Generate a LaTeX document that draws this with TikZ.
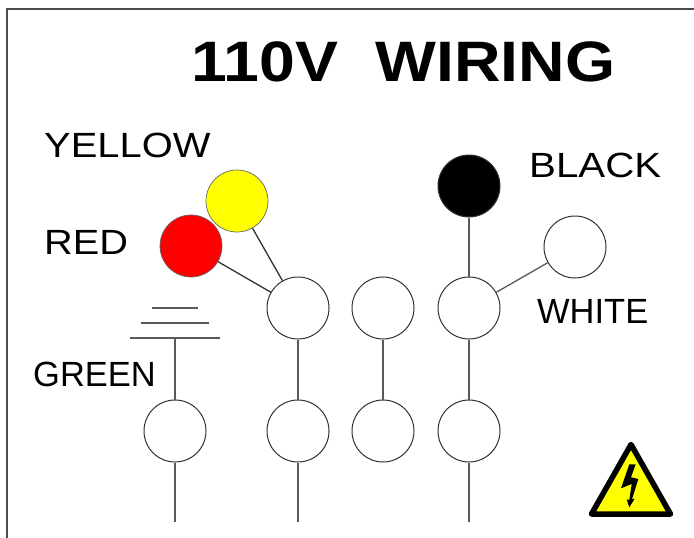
\documentclass[tikz,border=0pt]{standalone}
\usepackage{fontspec}
\usepackage{graphicx}
\setmainfont{Liberation Sans}
\definecolor{MyYellow}{RGB}{255,255,0}
\tikzset{
	MyWire/.style={draw=black!65,line width=1.3pt},
	MyNut/.style={circle,draw=black!80,fill=white,line width=1pt,minimum size=62pt,inner sep=0pt},
	MyLabel/.style={font=\fontsize{35}{35}\selectfont,inner sep=0pt,anchor=west}
		}
\begin{document}
\begin{tikzpicture}[x=1pt,y=-1pt]
   \useasboundingbox (0,0) rectangle (694,538);

   % frame, open on the right and at the bottom
   \coordinate (FA) at (7,538);
   \coordinate (FB) at (7,9);
   \coordinate (FC) at (694,9);
   \draw[draw=black!70,line width=1.4pt] (FA) -- (FB) -- (FC);

   \node[inner sep=0pt,font=\fontsize{57}{57}\selectfont\bfseries] (title) at (403.5,62) {\scalebox{1.13}[1]{110V\hspace{0.3em} WIRING}};

   % wire nuts
   \node[MyNut,fill=MyYellow,draw=black!60,line width=0.7pt] (yellownut) at (237,201) {};
   \node[MyNut,fill=red,draw=black!60,line width=0.7pt] (rednut) at (191,246) {};
   \node[MyNut,fill=black] (blacknut) at (469,186) {};
   \node[MyNut] (whitenut) at (575,247) {};
   \foreach \n/\x in {a/298,b/383,c/469}
     \node[MyNut] (top\n) at (\x,308) {};
   \foreach \n/\x in {g/175,a/298,b/383,c/469}
     \node[MyNut] (low\n) at (\x,431) {};

   % wires between the nuts
   \draw[MyWire,draw=black!80] (yellownut) -- (topa);
   \draw[MyWire,draw=black!80] (rednut) -- (topa);
   \draw[MyWire] (blacknut) -- (topc);
   \draw[MyWire] (whitenut) -- (topc);
   \foreach \n in {a,b,c}
     \draw[MyWire] (top\n) -- (low\n);

   % ground symbol
   \coordinate (GA) at (130,338);
   \coordinate (GB) at (220,338);
   \coordinate (GC) at (141,323);
   \coordinate (GD) at (209,323);
   \coordinate (GE) at (152,308);
   \coordinate (GF) at (198,308);
   \coordinate (GT) at (175,338);
   \draw[MyWire] (GA) -- (GB);
   \draw[MyWire] (GC) -- (GD);
   \draw[MyWire] (GE) -- (GF);
   \draw[MyWire] (GT) -- (lowg);

   % free ends
   \foreach \n/\x in {g/175,a/298,c/469}{
     \coordinate (end\n) at (\x,522);
     \draw[MyWire] (low\n) -- (end\n);
   }

   \node[MyLabel] (yellowtext) at (44,145) {\scalebox{1.14}[1]{YELLOW}};
   \node[MyLabel] (redtext) at (44,242) {\scalebox{1.135}[1]{RED}};
   \node[MyLabel] (greentext) at (33,374) {\scalebox{0.985}[1]{GREEN}};
   \node[MyLabel] (blacktext) at (529,165) {\scalebox{1.15}[1]{BLACK}};
   \node[MyLabel] (whitetext) at (537,311) {\scalebox{0.985}[1]{WHITE}};

   % warning sign
   \filldraw[fill=MyYellow,draw=black,line width=5.5pt,line join=round]
     (631,444.5) -- (591.5,514) -- (670.5,514) -- cycle;
   \fill[black] (629.3,464.3) -- (635.7,464.3) -- (631,477.3) -- (638.3,479) -- (632,499.3)
     -- (634.7,498.7) -- (629.3,507.3) -- (626.7,499.3) -- (629.3,500) -- (631.7,484) -- (621,488.3) -- cycle;
\end{tikzpicture}
\end{document}
